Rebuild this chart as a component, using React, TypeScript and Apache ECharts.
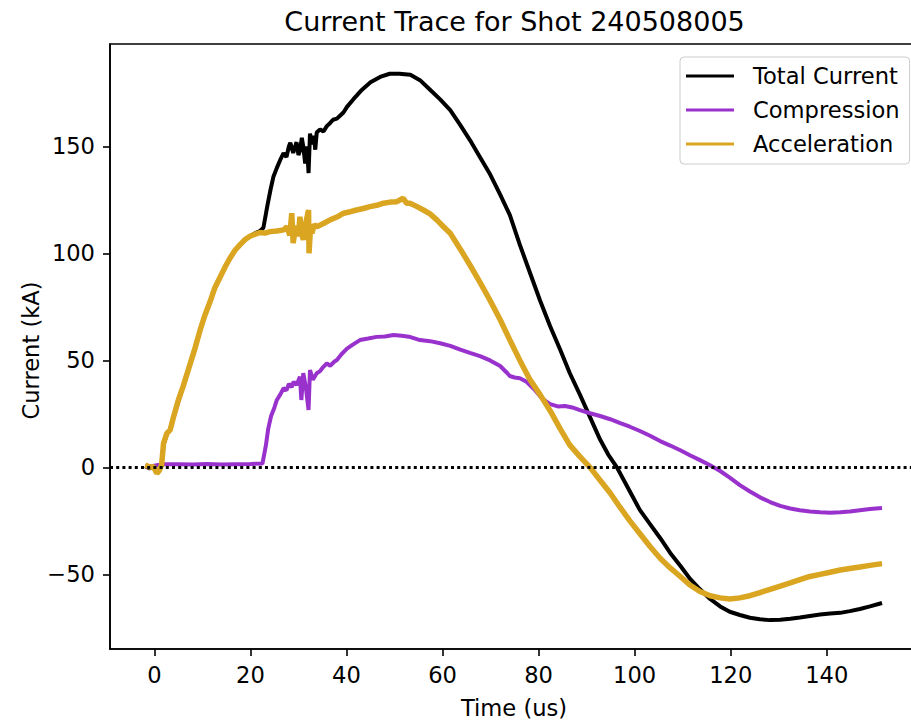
import { useEffect, useRef } from 'react';
import * as echarts from 'echarts';

// [time (us), current (kA)]
const totalCurrent: [number, number][] = [
  [-1.9, 0.5], [-1.0, -0.5], [-0.2, 0.3], [0.5, -2.0], [1.0, -1.0], [1.5, 0.8], [1.9, 10.5],
  [2.6, 15.5], [3.3, 18], [4.0, 23.5], [5.0, 31], [6.0, 38], [7.4, 48], [8.5, 56], [9.5, 64],
  [10.5, 71], [11.6, 77.5], [12.6, 84], [13.7, 89], [14.8, 94], [15.8, 98], [16.8, 101.5],
  [17.8, 104], [18.9, 106.5], [19.9, 108], [21.0, 109.5], [22.0, 110.5], [22.7, 112],
  [23.5, 122], [24.2, 130], [24.8, 136], [25.5, 140], [26.2, 143.7], [26.9, 146.9], [27.5, 145],
  [28.0, 150], [28.3, 151.7], [28.9, 147], [29.6, 152], [30.0, 146], [30.3, 148], [30.7, 154],
  [31.0, 150], [31.4, 142], [31.8, 150], [32.1, 137.5], [32.4, 156], [32.8, 151], [33.2, 155],
  [33.5, 148.5], [33.8, 156.5], [34.5, 158], [35.2, 157], [35.9, 159.5], [36.6, 161],
  [37.2, 162.5], [38.0, 163], [38.7, 164.5], [39.4, 166], [40.1, 168.5], [41.4, 172],
  [43.0, 176], [45.0, 180], [47.0, 182.5], [49.0, 184], [51.0, 184], [53.3, 183.5],
  [55.3, 181], [57.4, 176.5], [59.5, 172], [61.6, 167], [63.7, 160], [65.7, 153], [67.8, 145],
  [69.9, 137], [72.0, 127.5], [74.0, 118], [76.1, 104], [78.2, 91], [80.3, 78], [82.4, 66],
  [84.5, 55], [86.5, 44], [88.6, 34], [90.7, 23.5], [92.8, 13], [94.5, 6], [96.3, 0],
  [98.7, -10], [101.1, -20], [103.2, -26.5], [105.3, -33], [107.4, -40], [109.5, -46],
  [111.5, -52], [113.6, -57], [115.7, -61.5], [117.8, -65], [119.8, -67.5], [121.9, -69],
  [124.0, -70.3], [126.1, -71], [128.2, -71.4], [130.3, -71.2], [132.4, -70.8], [134.4, -70.2],
  [136.5, -69.5], [138.6, -68.8], [140.7, -68.3], [142.8, -68], [144.8, -67.2], [146.9, -66.2],
  [149.0, -65], [151.5, -63.4],
];

const compression: [number, number][] = [
  [-1.9, 0.5], [-0.5, 0.5], [0.5, 1.0], [2.0, 1.5], [5.0, 1.5], [8.0, 1.3], [11.0, 1.6],
  [14.0, 1.4], [17.0, 1.5], [20.0, 1.6], [22.5, 1.8], [23.2, 10], [23.7, 18], [24.3, 24],
  [25.0, 28], [25.5, 31.5], [26.2, 34], [26.9, 37], [27.5, 36], [28.0, 39], [28.6, 37.5],
  [29.0, 40], [29.6, 38.5], [30.3, 42.4], [30.6, 31.5], [31.0, 44], [31.5, 38], [32.1, 26.8],
  [32.4, 45.5], [33.0, 41], [33.8, 44], [34.5, 45], [35.2, 47], [35.9, 48.6], [36.6, 47.5],
  [37.5, 49.5], [38.0, 50.2], [39.0, 53], [40.1, 55.5], [41.4, 57.5], [42.8, 59.5],
  [44.5, 60.2], [46.3, 61], [48.0, 61.2], [49.8, 61.9], [51.5, 61.5], [53.0, 61.1],
  [55.3, 59.5], [57.4, 59], [59.5, 58], [61.6, 56.8], [63.7, 55], [65.7, 53.5], [67.8, 52],
  [69.9, 50], [72.0, 47.4], [73.5, 44], [74.0, 42.7], [75.0, 42], [76.1, 41.7], [77.5, 40],
  [79.3, 36], [80.8, 32], [82.4, 29.6], [84.0, 28.5], [85.5, 28.7], [87.0, 28], [88.6, 26.8],
  [90.7, 25.3], [92.8, 24], [94.9, 22.5], [97.0, 20.7], [99.0, 19], [101.1, 17],
  [103.2, 14.8], [105.3, 12.3], [107.4, 10.2], [109.5, 8], [111.5, 5.7], [113.6, 3.4],
  [115.7, 1], [117.8, -1.7], [119.8, -4.8], [121.9, -8.3], [124.0, -11.3], [126.1, -14],
  [128.2, -16.2], [130.3, -18], [132.4, -19.2], [134.4, -20], [136.5, -20.6], [138.6, -21],
  [140.7, -21.2], [142.8, -21], [144.8, -20.6], [146.9, -20], [149.0, -19.5], [151.5, -19],
];

const acceleration: [number, number][] = [
  [-1.9, 1.1], [-1.0, 0.2], [-0.2, 0.3], [0.5, -2.8], [1.0, -1.5], [1.5, 1.0], [1.9, 11.2],
  [2.6, 15.9], [3.3, 17.5], [4.0, 23.7], [5.0, 31.5], [6.0, 38], [7.4, 48], [8.5, 56],
  [9.5, 64], [10.5, 71], [11.6, 77.5], [12.6, 84], [13.7, 89], [14.8, 94], [15.8, 98],
  [16.8, 101.5], [17.8, 104], [18.9, 106.5], [19.9, 108], [21.0, 109], [22.0, 109.8],
  [23.0, 109.5], [24.1, 110.2], [25.5, 110.5], [26.9, 111], [27.6, 112.5], [28.2, 108.5],
  [28.6, 118.8], [28.9, 104.8], [29.4, 113], [30.0, 108], [30.3, 117.2], [30.6, 110],
  [31.0, 106.3], [31.5, 114], [32.1, 120.3], [32.2, 100.1], [32.5, 112], [32.8, 109.4],
  [33.3, 113.5], [33.8, 112.5], [35.2, 114], [36.6, 115.7], [38.0, 117], [39.4, 118.8],
  [40.8, 119.5], [42.1, 120.3], [43.5, 121], [44.9, 121.9], [46.3, 122.5], [47.7, 123.5],
  [49.1, 124], [50.5, 124.2], [51.8, 125.8], [52.5, 123.5], [53.2, 123.5], [54.6, 122],
  [56.0, 120.3], [57.4, 118.5], [58.8, 115.7], [60.2, 112.5], [61.6, 109.4], [63.7, 102],
  [65.7, 94.6], [67.8, 86.5], [69.9, 78], [72.0, 69], [74.0, 59.6], [76.1, 50], [78.2, 41],
  [80.3, 34], [82.4, 26.5], [84.5, 18], [86.5, 10.4], [88.6, 5], [90.7, 0], [92.8, -6],
  [94.9, -12], [96.9, -18.5], [99.0, -25], [101.1, -31], [103.2, -37], [105.3, -42.5],
  [107.4, -47], [109.5, -51], [111.5, -55], [113.6, -58], [115.7, -60], [117.8, -61],
  [119.8, -61.5], [121.9, -61], [124.0, -60], [126.1, -58.5], [128.2, -57], [130.3, -55.5],
  [132.4, -54], [134.4, -52.5], [136.5, -51], [138.6, -50], [140.7, -49], [142.8, -48],
  [144.8, -47.3], [146.9, -46.6], [149.0, -45.8], [151.5, -45],
];

const timeTicks = [0, 20, 40, 60, 80, 100, 120, 140];
const currentTicks = [-50, 0, 50, 100, 150];

const FONT = 'DejaVu Sans';
const FONT_SIZE = 22.6;
const GRID = { left: 110, top: 44, width: 809, height: 605 };

export default function App() {
  const ref = useRef<HTMLDivElement>(null);

  useEffect(() => {
    document.body.style.margin = '0';
    document.body.style.overflow = 'hidden';
    const chart = echarts.init(ref.current!, null, { renderer: 'svg' });

    const axisCommon = {
      type: 'value' as const,
      splitLine: { show: false },
      axisLine: { show: true, onZero: false, lineStyle: { color: '#000', width: 1.6 } },
    };

    chart.setOption({
      animation: false,
      backgroundColor: '#fff',
      textStyle: { fontFamily: FONT },
      grid: {
        ...GRID,
        show: true,
        borderColor: '#000',
        borderWidth: 1.6,
        containLabel: false,
      },
      xAxis: {
        ...axisCommon,
        min: -9.24,
        max: 159.2,
        axisTick: { show: true, length: 7, customValues: timeTicks, lineStyle: { color: '#000', width: 1.6 } },
        axisLabel: {
          customValues: timeTicks,
          color: '#000',
          fontSize: FONT_SIZE,
          fontFamily: FONT,
          margin: 14,
        },
      },
      yAxis: {
        ...axisCommon,
        min: -84.9,
        max: 197.9,
        axisTick: { show: true, length: 7, customValues: currentTicks, lineStyle: { color: '#000', width: 1.6 } },
        axisLabel: {
          customValues: currentTicks,
          color: '#000',
          fontSize: FONT_SIZE,
          fontFamily: FONT,
          margin: 15,
          formatter: (v: number) => (v < 0 ? '\u2212' + Math.abs(v) : String(v)),
        },
      },
      legend: {
        orient: 'vertical',
        left: 680,
        top: 57,
        icon: 'rect',
        itemWidth: 48,
        itemHeight: 3,
        itemGap: 10,
        padding: [7, 10, 8, 6],
        backgroundColor: 'rgba(255,255,255,0.8)',
        borderColor: '#cccccc',
        borderWidth: 1,
        borderRadius: 4,
        textStyle: {
          color: '#000',
          fontSize: FONT_SIZE,
          fontFamily: FONT,
          lineHeight: 24,
          padding: [0, 0, 0, 14],
        },
        data: ['Total Current', 'Compression', 'Acceleration'],
      },
      graphic: [
        {
          type: 'text',
          x: GRID.left + GRID.width / 2,
          y: 21.5,
          style: {
            text: 'Current Trace for Shot 240508005',
            fontSize: 27,
            fontFamily: FONT,
            fill: '#000',
            align: 'center',
            verticalAlign: 'middle',
          },
        },
        {
          type: 'text',
          x: 514,
          y: 708,
          style: {
            text: 'Time (us)',
            fontSize: FONT_SIZE,
            fontFamily: FONT,
            fill: '#000',
            align: 'center',
            verticalAlign: 'middle',
          },
        },
        {
          type: 'text',
          x: 31,
          y: GRID.top + GRID.height / 2 + 4,
          rotation: Math.PI / 2,
          style: {
            text: 'Current (kA)',
            fontSize: FONT_SIZE,
            fontFamily: FONT,
            fill: '#000',
            align: 'center',
            verticalAlign: 'middle',
          },
        },
      ],
      series: [
        {
          name: 'Total Current',
          type: 'line',
          data: totalCurrent,
          showSymbol: false,
          symbol: 'none',
          color: '#000000',
          lineStyle: { color: '#000000', width: 4 },
        },
        {
          name: 'Compression',
          type: 'line',
          data: compression,
          showSymbol: false,
          symbol: 'none',
          color: '#9932CC',
          lineStyle: { color: '#9932CC', width: 4 },
        },
        {
          name: 'Acceleration',
          type: 'line',
          data: acceleration,
          showSymbol: false,
          symbol: 'none',
          color: '#DAA520',
          lineStyle: { color: '#DAA520', width: 5.5 },
          markLine: {
            silent: true,
            symbol: 'none',
            label: { show: false },
            lineStyle: { color: '#000', type: [3, 3.2], width: 2.8 },
            data: [{ yAxis: 0 }],
          },
        },
      ],
    });

    return () => chart.dispose();
  }, []);

  return (
    <div
      ref={ref}
      style={{ position: 'fixed', left: 0, top: 0, width: 919, height: 723, background: '#fff' }}
    />
  );
}
